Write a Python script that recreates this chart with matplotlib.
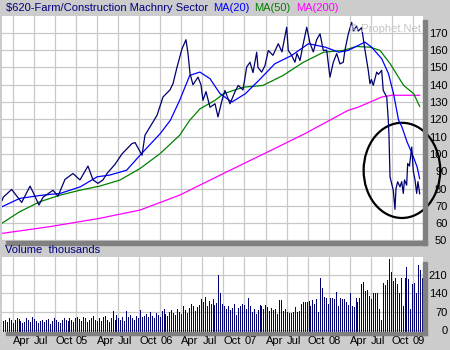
import numpy as np
import matplotlib
matplotlib.use('Agg')
import matplotlib.pyplot as plt
from matplotlib.patches import Ellipse, Rectangle

plt.rcParams['font.family'] = ['Liberation Sans', 'DejaVu Sans']

# --- data (x in decimal years) ---
price_t = [2004.120, 2004.135, 2004.235, 2004.274, 2004.354, 2004.453, 2004.488, 2004.559, 2004.607,
           2004.726, 2004.785, 2004.868, 2004.963, 2005.046, 2005.141, 2005.201, 2005.260, 2005.319,
           2005.367, 2005.462, 2005.545, 2005.604, 2005.664, 2005.700, 2005.783, 2005.818, 2005.901,
           2005.961, 2006.032, 2006.115, 2006.151, 2006.198, 2006.258, 2006.305, 2006.329, 2006.353,
           2006.388, 2006.448, 2006.483, 2006.507, 2006.543, 2006.590, 2006.650, 2006.685, 2006.733,
           2006.768, 2006.804, 2006.828, 2006.887, 2006.926, 2006.982, 2007.026, 2007.065, 2007.101,
           2007.145, 2007.160, 2007.204, 2007.243, 2007.283, 2007.338, 2007.401, 2007.445, 2007.501,
           2007.520, 2007.560, 2007.599, 2007.623, 2007.659, 2007.698, 2007.739, 2007.778, 2007.817,
           2007.857, 2007.897, 2007.936, 2007.976, 2008.015, 2008.055, 2008.095, 2008.134, 2008.173,
           2008.193, 2008.233, 2008.273, 2008.294, 2008.332, 2008.351, 2008.392, 2008.411, 2008.431,
           2008.470, 2008.490, 2008.508, 2008.529, 2008.570, 2008.591, 2008.629, 2008.648, 2008.689,
           2008.708, 2008.716, 2008.728, 2008.767, 2008.787, 2008.799, 2008.819, 2008.847, 2008.867,
           2008.886, 2008.900, 2008.926, 2008.938, 2008.959, 2008.986, 2009.005, 2009.025, 2009.045,
           2009.060, 2009.081]
price = [73, 75, 79.5, 77, 72, 81.4, 78, 70.5, 75,
         79, 75.6, 85.3, 88.7, 85, 93, 85, 83, 85,
         88.7, 94, 100, 103, 106, 106.6, 99.3, 110.8, 117.5,
         122.3, 132.9, 137, 140.6, 150, 160.8, 166, 158, 146.5,
         140, 144.4, 140, 131, 136, 127, 129, 121.4, 131,
         136.7, 132, 129, 136, 139.6, 137, 150.2, 153, 147,
         158.8, 150, 147.3, 151, 159.8, 157, 163.7, 159, 173.2,
         159.8, 157, 153, 158, 154, 163.7, 173.2, 164, 159,
         166, 169.4, 159.8, 160, 144.4, 153, 158, 152, 153,
         160, 169.4, 176, 171, 174, 171, 173, 166.5, 160,
         148.3, 140.6, 143, 139.6, 147.3, 146, 148.3, 136.7, 132.9,
         119.5, 110.8, 86.8, 79, 68, 80, 83.9, 81, 84,
         77.2, 85, 82, 94.5, 93, 104, 90, 85, 77.2,
         84, 77]

ma20_t = [2004.12, 2004.33, 2004.57, 2004.81, 2005.05, 2005.25, 2005.40, 2005.60, 2005.76, 2006.00,
          2006.12, 2006.23, 2006.35, 2006.47, 2006.59, 2006.71, 2006.85, 2007.01, 2007.17, 2007.36,
          2007.56, 2007.76, 2007.96, 2008.12, 2008.23, 2008.35, 2008.43, 2008.51, 2008.63, 2008.71,
          2008.77, 2008.83, 2008.87, 2008.93, 2008.99, 2009.05, 2009.08]
ma20 = [69.5, 74.3, 76, 77.2, 81, 86.8, 87.8, 90.6, 99.3, 111.8,
        119.5, 131, 145.4, 147.3, 143.5, 134.8, 130, 134.8, 142.5, 152.1,
        156.9, 163.7, 161.7, 158.8, 159.8, 162.7, 164.6, 161.7, 155, 146.4,
        134.8, 119.5, 115.6, 107, 100.3, 92.5, 85.8]

ma50_t = [2004.12, 2004.33, 2004.57, 2004.81, 2005.05, 2005.28, 2005.52, 2005.76, 2006.00, 2006.23,
          2006.35, 2006.47, 2006.65, 2006.75, 2006.99, 2007.22, 2007.46, 2007.70, 2007.94, 2008.17,
          2008.33, 2008.49, 2008.61, 2008.73, 2008.89, 2009.01, 2009.08]
ma50 = [60, 66.6, 72.4, 76.2, 79.1, 81.4, 84.9, 91.6, 100.3, 110.8,
        119.5, 126, 131, 134.8, 138.6, 139.6, 145.4, 153, 158.8, 159.8,
        162.1, 161.7, 159.8, 152.1, 139.6, 134.8, 127.5]

ma200_t = [2004.12, 2004.69, 2005.28, 2005.76, 2006.23, 2006.77, 2007.24, 2007.72, 2008.23, 2008.35,
           2008.63, 2008.75, 2009.08]
ma200 = [54.1, 58, 62.8, 67.6, 76.2, 89.2, 100.3, 111.8, 125.2, 127,
         132.9, 133.9, 133.9]

volume = [36, 40, 30, 44, 38, 26, 40, 46, 42, 34, 28, 32, 44, 38, 30, 48, 42, 36, 26, 34,
          40, 30, 38, 42, 24, 36, 44, 40, 32, 28, 38, 46, 40, 34, 44, 38, 30, 46, 50, 42,
          36, 48, 44, 30, 38, 46, 52, 40, 34, 44, 36, 48, 54, 40, 32, 46, 72, 38, 56, 44,
          40, 48, 36, 72, 50, 58, 44, 38, 52, 46, 78, 50, 54, 62, 48, 70, 52, 44, 66, 58,
          50, 72, 80, 60, 54, 68, 76, 64, 58, 82, 70, 62, 90, 78, 66, 84, 100, 92, 74, 88,
          96, 120, 108, 126, 90, 112, 100, 118, 95, 104, 210, 140, 98, 92, 82, 90, 78, 84, 100,
          56, 84, 92, 98, 96, 80, 122, 90, 70, 82, 60, 76, 94, 90, 80, 94, 88, 74, 84, 76,
          80, 62, 116, 116, 72, 80, 68, 66, 64, 68, 88, 70, 74, 98, 106, 108, 106, 112, 92,
          116, 100, 120, 68, 198, 160, 126, 124, 100, 122, 124, 120, 144, 92, 124, 118, 120,
          108, 96, 140, 90, 88, 124, 108, 124, 176, 182, 150, 152, 130, 120, 140, 142, 140,
          82, 38, 178, 172, 190, 271, 220, 188, 200, 176, 140, 200, 92, 200, 240, 196, 80,
          176, 180, 140, 250, 228, 200]

vol_start, vol_end = 2004.13, 2009.11
vol_t = np.linspace(vol_start, vol_end, len(volume))

quarters = np.arange(2004.25, 2009.01, 0.25)
tick_labels = []
for q in quarters:
    frac = round(q % 1, 2)
    tick_labels.append({0.0: '%02d' % (int(round(q)) % 100), 0.25: 'Apr', 0.5: 'Jul', 0.75: 'Oct'}[frac])

price_ticks = np.arange(50, 171, 10)
vol_ticks = [0, 70, 140, 210]

bg = '#cccccc'
shadow = '#808080'
grid_c = '#c8c8c8'
navy = '#000070'
fs = 8

fig = plt.figure(figsize=(4.5, 3.5), dpi=100, facecolor=bg)
W, H = 450.0, 350.0

ax = fig.add_axes([2 / W, 1 - 241 / H, 421 / W, 225.5 / H])
axv = fig.add_axes([2 / W, 1 - 331.7 / H, 421 / W, 74.7 / H])

# drop shadows of the two panels
for (x0, y0, w, h) in [(423, 20, 3.5, 224.5), (6, 241, 420.5, 3.5),
                       (423, 262, 3.5, 73), (6, 331.7, 420.5, 3.3)]:
    fig.patches.append(Rectangle((x0 / W, 1 - (y0 + h) / H), w / W, h / H,
                                 transform=fig.transFigure, color=shadow, zorder=0))

for a in (ax, axv):
    a.set_facecolor('white')
    a.set_xlim(2004.12, 2009.12)
    a.set_xticks(quarters)
    a.grid(True, color=grid_c, linewidth=0.9)
    a.set_axisbelow(True)
    for s in a.spines.values():
        s.set_visible(False)
    a.yaxis.tick_right()
    a.tick_params(axis='both', length=0, labelsize=fs, colors='black')
    a.tick_params(axis='y', pad=17.5)

# price panel
ax.plot(ma200_t, ma200, color='#ff00ff', lw=0.9)
ax.plot(ma50_t, ma50, color='#008000', lw=0.9)
ax.plot(ma20_t, ma20, color='#0000ff', lw=0.9)
ax.plot(price_t, price, color=navy, lw=0.9)
ax.set_ylim(49.7, 180)
ax.set_yticks(price_ticks)
ax.set_xticklabels([])
for lab in ax.get_yticklabels():
    lab.set_ha('right')

ax.add_patch(Ellipse((2008.87, 90.5), 0.91, 55, fill=False, edgecolor='black', lw=1.6, clip_on=False))
ax.text(0.995, 0.94, '© Prophet.Net', transform=ax.transAxes, ha='right', va='center',
        color='#c4c4c4', fontsize=fs)

# volume panel (1 px wide bars)
vol_lo = -6.5
axv.vlines(vol_t, vol_lo, volume, color=navy, linewidth=0.6, antialiased=False)
axv.set_ylim(vol_lo, 278.7)
axv.set_yticks(vol_ticks)
axv.set_xticklabels(tick_labels)
for lab in axv.get_yticklabels():
    lab.set_ha('right')
for lab in axv.get_xticklabels():
    lab.set_ha('left')
axv.tick_params(axis='x', pad=3)

# header texts, chained one after the other
renderer = fig.canvas.get_renderer()
x = 6 / W
for txt, col in [('$620-Farm/Construction Machnry Sector', '#000080'), ('MA(20)', '#0000ff'),
                 ('MA(50)', '#008000'), ('MA(200)', '#ff00ff')]:
    t = fig.text(x, 1 - 8 / H, txt, color=col, fontsize=fs, va='center')
    x = (t.get_window_extent(renderer).x1 + 5) / W
fig.text(5.3 / W, 1 - 250 / H, 'Volume  thousands', color='#000080', fontsize=fs, va='center')

fig.savefig('out.png', dpi=100, facecolor=bg)
